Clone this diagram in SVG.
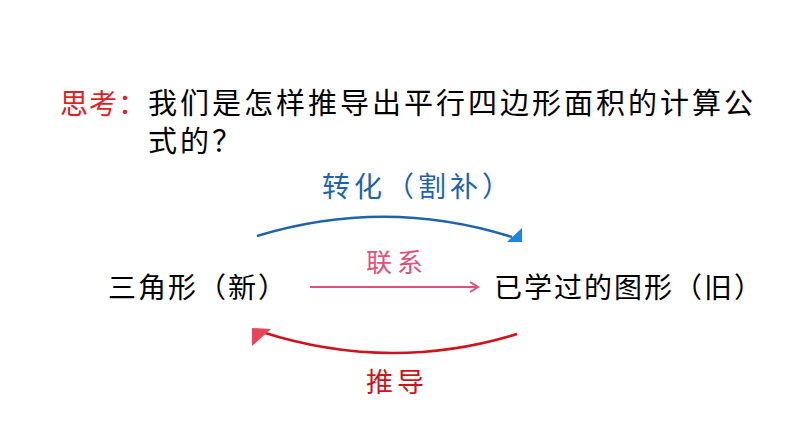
<svg xmlns="http://www.w3.org/2000/svg" width="794" height="447" viewBox="0 0 794 447">
<style>
text{font-family:"Noto Sans CJK SC","Noto Sans CJK JP",sans-serif;}
.q{font-size:29px;fill:#000;letter-spacing:3px}
.n{font-size:28px;fill:#000;letter-spacing:2px}
</style>
<rect width="794" height="447" fill="#fff"/>
<g id="question">
<text x="60" y="114" font-size="28" fill="#e01e26" letter-spacing="1">思考：</text>
<text class="q" x="148" y="114">我们是怎样推导出平行四边形面积的计算公</text>
<text class="q" x="148" y="152">式的？</text>
</g>
<g id="node-new"><text class="n" x="108" y="298">三角形（新）</text></g>
<g id="node-old"><text class="n" x="494" y="298">已学过的图形（旧）</text></g>
<g id="connectors">
<path d="M257,236 Q385,197 512,237" fill="none" stroke="#1e64ad" stroke-width="2.5"/>
<polygon points="522,228 522,242 507,242" fill="#1a86e0"/>
<path d="M310,287 L477,287" fill="none" stroke="#e0507a" stroke-width="2"/>
<path d="M470,282 L478,287 L470,292" fill="none" stroke="#e0507a" stroke-width="2"/>
<path d="M517,334 Q390,373 262,332" fill="none" stroke="#d0121b" stroke-width="2.5"/>
<polygon points="252,328 271,329 252,346" fill="#e8455a"/>
</g>
<g id="labels">
<text x="322" y="197" font-size="28" fill="#1e64ad" letter-spacing="4">转化（割补）</text>
<text x="366" y="272" font-size="26" fill="#e0507a" letter-spacing="5">联系</text>
<text x="366" y="392" font-size="27" fill="#d0121b" letter-spacing="4">推导</text>
</g>
</svg>
